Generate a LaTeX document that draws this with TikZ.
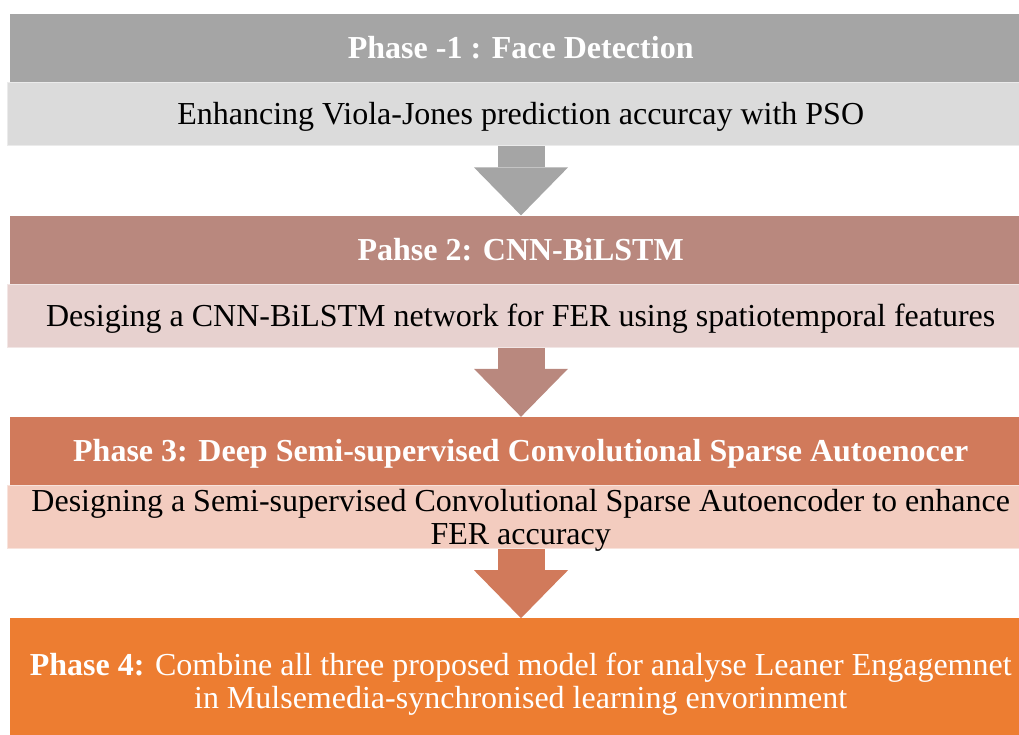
\documentclass[tikz,border=0pt]{standalone}
\usepackage{fontspec}
\setmainfont{Liberation Serif}
\usetikzlibrary{positioning}
\usetikzlibrary{arrows.meta}

\definecolor{grayhead}{HTML}{A5A5A5}
\definecolor{graysub}{HTML}{DBDBDB}
\definecolor{rosehead}{HTML}{B9887E}
\definecolor{rosesub}{HTML}{E7D1CF}
\definecolor{rusthead}{HTML}{D17A5B}
\definecolor{rustsub}{HTML}{F3CCBF}
\definecolor{orangehead}{HTML}{ED7D31}

\begin{document}
\begin{tikzpicture}[
  x=1pt,y=-1pt,
  phasehead/.style={rectangle,fill=#1,minimum width=1021pt,minimum height=68pt,inner sep=0pt,
    text=white,font=\fontsize{32}{33}\selectfont\bfseries,text height=21pt,text depth=0pt},
  phasesub/.style={rectangle,fill=#1,draw=#1!55!white,line width=1pt,minimum width=1027pt,minimum height=63pt,
    inner sep=0pt,font=\fontsize{32}{33}\selectfont,text height=21pt,text depth=0pt},
  phasearrow/.style={draw=#1,line width=47pt,-{Triangle[width=94pt,length=48pt,line width=0pt]}}
]
\useasboundingbox (0,0) rectangle (1019,734);
\clip (0,0) rectangle (1019,734);
\coordinate (mid) at (521,0);

% Phase 1
\node[phasehead=grayhead,anchor=north west] (h1) at (10,14) {Phase -1 : Face Detection};
\node[phasesub=graysub,below=0pt of h1] (s1) {Enhancing Viola-Jones prediction accurcay with PSO};

% Phase 2
\node[phasehead=rosehead,below=69pt of s1] (h2) {Pahse 2: CNN-BiLSTM};
\node[phasesub=rosesub,below=0pt of h2] (s2) {Desiging a CNN-BiLSTM network for FER using spatiotemporal features};

% Phase 3
\node[phasehead=rusthead,below=69pt of s2] (h3) {Phase 3: Deep Semi-supervised Convolutional Sparse Autoenocer};
\node[phasesub=rustsub,below=0pt of h3,align=center,text height=54pt] (s3)
  {Designing a Semi-supervised Convolutional Sparse Autoencoder to enhance\\FER accuracy};

% Phase 4
\node[phasehead=orangehead,below=69pt of s3,minimum height=120pt,align=center,
  font=\fontsize{32}{32.5}\selectfont,text height=60pt] (h4)
  {\textbf{Phase 4:} Combine all three proposed model for analyse Leaner Engagemnet\\in Mulsemedia-synchronised learning envorinment};

% arrows
\draw[phasearrow=grayhead] (s1.south -| mid) -- (h2.north -| mid);
\draw[phasearrow=rosehead] (s2.south -| mid) -- (h3.north -| mid);
\draw[phasearrow=rusthead] (s3.south -| mid) -- (h4.north -| mid);

\end{tikzpicture}
\end{document}
